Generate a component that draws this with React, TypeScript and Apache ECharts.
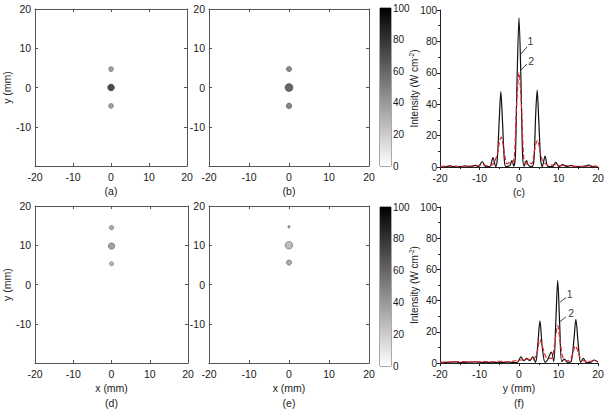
import React, { useEffect, useRef } from "react";
import * as echarts from "echarts";

// ---------- data ----------
const mmTicks = [-20, -10, 0, 10, 20];
const colorbarTicks = [0, 20, 40, 60, 80, 100];

// focal spots: [x (mm), y (mm), intensity (W/cm2), spot diameter (mm)]
const spotsA = [
  [0, 0, 88, 1.7],
  [0, 4.7, 45, 1.2],
  [0, -4.7, 45, 1.2],
];
const spotsB = [
  [0, 0, 75, 2.0],
  [0, 4.7, 58, 1.3],
  [0, -4.7, 60, 1.4],
];
const spotsD = [
  [0, 14.5, 40, 1.1],
  [0, 9.8, 45, 1.6],
  [0, 5.3, 35, 1.0],
];
const spotsE = [
  [0, 14.7, 45, 0.6],
  [0, 10, 32, 1.9],
  [0, 5.6, 40, 1.3],
];

// intensity profiles: [y (mm), intensity]
const profileC1 = [
  [-20, 0], [-18, 0.3], [-17.5, 0.8], [-17, 0.3], [-15, 0.2], [-13.5, 0.8], [-12.5, 0.2],
  [-11, 1], [-10.3, 0.2], [-9.3, 3.5], [-8.5, 0.3], [-7.4, 0.2], [-6.6, 6], [-5.9, 0.3],
  [-5.5, 5], [-5, 30], [-4.6, 48], [-4.2, 30], [-3.7, 4], [-3.3, 0.3], [-2.3, 1], [-1.8, 4],
  [-1.3, 0.5], [-0.9, 8], [-0.5, 55], [0, 95], [0.5, 55], [0.9, 8], [1.3, 0.5], [1.9, 4],
  [2.4, 1], [3.3, 0.3], [3.8, 5], [4.2, 32], [4.6, 49], [5.0, 30], [5.5, 4], [5.9, 0.3],
  [6.6, 7], [7.3, 0.3], [8.5, 0.3], [9.3, 3], [10.1, 0.3], [11, 1.5], [12, 0.3], [13.3, 1],
  [14, 0.3], [16, 0.2], [17.8, 1.2], [18.5, 0.2], [20, 0],
];
const profileC2 = [
  [-20, 0.3], [-17.5, 0.8], [-15, 0.3], [-12.5, 0.6], [-10, 0.8], [-9, 1.5], [-8, 0.8],
  [-7, 1], [-6.3, 3], [-5.5, 8], [-5, 15], [-4.5, 19], [-4, 14], [-3.5, 6], [-3, 2],
  [-2.3, 3], [-1.8, 2.5], [-1.2, 6], [-0.6, 40], [0, 60], [0.6, 40], [1.2, 6], [1.8, 2],
  [2.5, 3], [3.2, 2], [3.7, 7], [4.2, 14], [4.7, 17], [5.2, 12], [5.8, 5], [6.5, 2.5],
  [7.5, 1], [9, 1.5], [10, 0.8], [11.5, 1], [13, 0.6], [15, 0.4], [17, 0.5], [18.5, 0.8],
  [20, 0.2],
];
const profileF1 = [
  [-20, 0.3], [-18, 0.5], [-16, 0.8], [-15, 0.3], [-13, 0.6], [-11, 0.8], [-9, 0.4],
  [-7, 0.5], [-5, 0.4], [-3, 0.6], [-1.5, 0.5], [-0.5, 0.3], [0.5, 4], [1.2, 1.5], [2, 3],
  [2.7, 1.5], [3.5, 4], [4.2, 0.5], [4.7, 10], [5.3, 27], [5.9, 10], [6.6, 0.5], [7.2, 2],
  [8.2, 7], [8.8, 1], [9.3, 25], [9.8, 53], [10.3, 25], [10.8, 1], [11.5, 2.5], [12.3, 0.5],
  [13.2, 1], [13.9, 15], [14.4, 28], [15, 12], [15.6, 0.5], [16.3, 3], [17, 0.5], [18, 0.4],
  [19, 2], [20, 0.5],
];
const profileF2 = [
  [-20, 0.5], [-17, 0.8], [-15, 1], [-12, 0.8], [-10, 1], [-7, 0.8], [-5, 1.2], [-3, 0.8],
  [-1, 1.5], [0.5, 2], [2, 2.5], [3.5, 2], [4.5, 6], [5.3, 15], [6, 10], [6.8, 4], [7.5, 3],
  [8.3, 3], [9, 12], [9.8, 24], [10.5, 12], [11.2, 3], [12.3, 1.5], [13.3, 4], [14.3, 11],
  [15, 7], [15.7, 2], [16.5, 1.5], [18, 1], [19, 1.5], [20, 0.8],
];

// curve annotations: leader start/end, label position
const leaderC1 = [[0.5, 72], [2.0, 76.4]];
const leaderC2 = [[0.5, 61.8], [2.0, 65.6]];
const labelPosC = [[2.9, 80], [3.1, 67.5]];
const leaderF1 = [[10.4, 39], [11.9, 42]];
const leaderF2 = [[10.1, 26], [11.9, 29.6]];
const labelPosF = [[12.8, 44.5], [13.2, 32]];
const curveNames = ["1", "2"];

// ---------- styles ----------
const FONT = "Liberation Sans, Arial, Helvetica, sans-serif";
const FS = 10.5;
const TXT = "#1a1a1a";
const BOX = "#555";

function heatAxes(gi: number, xName: string, nameGap: number, yName: string) {
  const line = { show: true, onZero: false, lineStyle: { color: BOX, width: 1 } };
  const tick = { show: true, inside: true, length: 3, lineStyle: { color: BOX } };
  const xs = [
    {
      gridIndex: gi, type: "value", min: -20, max: 20, interval: 10,
      axisLine: line, axisTick: tick,
      axisLabel: { fontSize: FS, color: TXT, fontFamily: FONT, margin: 5 },
      splitLine: { show: false },
      name: xName, nameLocation: "middle", nameGap,
      nameTextStyle: { fontSize: FS, color: TXT, fontFamily: FONT, lineHeight: 15 },
    },
    {
      gridIndex: gi, type: "value", min: -20, max: 20, interval: 10, position: "top",
      axisLine: line, axisTick: tick,
      axisLabel: { show: false }, splitLine: { show: false },
    },
  ];
  const ys = [
    {
      gridIndex: gi, type: "value", min: -20, max: 20, interval: 10,
      axisLine: line, axisTick: tick,
      axisLabel: {
        fontSize: FS, color: TXT, fontFamily: FONT, margin: 4,
        formatter: (v: number) => (v === mmTicks[0] ? "" : String(v)),
      },
      splitLine: { show: false },
      name: yName, nameLocation: "middle", nameGap: 14,
      nameTextStyle: { fontSize: FS, color: TXT, fontFamily: FONT },
    },
    {
      gridIndex: gi, type: "value", min: -20, max: 20, interval: 10, position: "right",
      axisLine: line, axisTick: tick,
      axisLabel: { show: false }, splitLine: { show: false },
    },
  ];
  return { xs, ys };
}

function lineAxes(gi: number, xName: string, nameGap: number) {
  const x = {
    gridIndex: gi, type: "value", min: -20, max: 20, interval: 10,
    axisLine: { show: true, onZero: false, lineStyle: { color: "#222", width: 1 } },
    axisTick: { show: true, length: 3, lineStyle: { color: "#222" } },
    minorTick: { show: true, splitNumber: 2, length: 2, lineStyle: { color: "#222" } },
    axisLabel: { fontSize: FS, color: TXT, fontFamily: FONT, margin: 5 },
    splitLine: { show: false },
    name: xName, nameLocation: "middle", nameGap,
    nameTextStyle: { fontSize: FS, color: TXT, fontFamily: FONT, lineHeight: 15 },
  };
  const y = {
    gridIndex: gi, type: "value", min: 0, max: 100, interval: 20,
    axisLine: { show: true, onZero: false, lineStyle: { color: "#222", width: 1 } },
    axisTick: { show: true, length: 3, lineStyle: { color: "#222" } },
    minorTick: { show: true, splitNumber: 2, length: 2, lineStyle: { color: "#222" } },
    axisLabel: { fontSize: 10, color: TXT, fontFamily: FONT, margin: 3 },
    splitLine: { show: false },
    name: "Intensity (W cm{sup|-2})", nameLocation: "middle", nameGap: 20,
    nameMoveOverlap: false,
    nameTextStyle: {
      fontSize: 10, color: TXT, fontFamily: FONT,
      rich: { sup: { fontSize: 6.5, color: TXT, fontFamily: FONT, verticalAlign: "top", padding: [0, 0, 5, 0] } },
    },
  };
  return { x, y };
}

function colorbarAxes(gi: number) {
  return {
    x: { gridIndex: gi, type: "category", data: [""], show: false },
    y: {
      gridIndex: gi, type: "value", min: 0, max: 100, interval: 20, position: "right",
      axisLine: { show: false }, axisTick: { show: false }, splitLine: { show: false },
      axisLabel: { fontSize: 10, color: TXT, fontFamily: FONT, margin: 2 },
    },
  };
}

export default function App() {
  const ref = useRef<HTMLDivElement>(null);

  useEffect(() => {
    if (!ref.current) return;
    const chart = echarts.init(ref.current, undefined, { renderer: "svg" });

    const grids = [
      { left: 28, top: 9, width: 159, height: 157 }, // a
      { left: 209, top: 9, width: 160, height: 157 }, // b
      { left: 380, top: 8, width: 11, height: 158, show: true, borderColor: BOX, borderWidth: 1 }, // cb top
      { left: 440, top: 10, width: 158, height: 157 }, // c
      { left: 28, top: 206, width: 160, height: 160 }, // d
      { left: 209, top: 206, width: 160, height: 160 }, // e
      { left: 380, top: 207, width: 11, height: 159, show: true, borderColor: BOX, borderWidth: 1 }, // cb bottom
      { left: 440, top: 207, width: 158, height: 159 }, // f
    ];

    const xAxes: any[] = [];
    const yAxes: any[] = [];
    const axisIdx: Record<string, { x: number; y: number }> = {};
    const addHeat = (key: string, gi: number, xName: string, gap: number, yName: string) => {
      const { xs, ys } = heatAxes(gi, xName, gap, yName);
      axisIdx[key] = { x: xAxes.length, y: yAxes.length };
      xAxes.push(...xs);
      yAxes.push(...ys);
    };
    const addLine = (key: string, gi: number, xName: string, gap: number) => {
      const { x, y } = lineAxes(gi, xName, gap);
      axisIdx[key] = { x: xAxes.length, y: yAxes.length };
      xAxes.push(x);
      yAxes.push(y);
    };
    const addCb = (key: string, gi: number) => {
      const { x, y } = colorbarAxes(gi);
      axisIdx[key] = { x: xAxes.length, y: yAxes.length };
      xAxes.push(x);
      yAxes.push(y);
    };

    addHeat("a", 0, "(a)", 17, "y (mm)");
    addHeat("b", 1, "(b)", 17, "");
    addCb("cb1", 2);
    addLine("c", 3, "(c)", 17);
    addHeat("d", 4, "x (mm)\n(d)", 12, "y (mm)");
    addHeat("e", 5, "x (mm)\n(e)", 12, "");
    addCb("cb2", 6);
    addLine("f", 7, "y (mm)\n(f)", 12);

    const pxPerMm = 4;
    const series: any[] = [];
    const spotSeries = (key: string, data: number[][]) => ({
      type: "scatter",
      xAxisIndex: axisIdx[key].x,
      yAxisIndex: axisIdx[key].y,
      data,
      symbol: "circle",
      symbolSize: (v: number[]) => v[3] * pxPerMm,
      itemStyle: { borderColor: "rgba(40,40,40,0.75)", borderWidth: 0.7 },
      z: 3,
    });
    series.push(spotSeries("a", spotsA));
    series.push(spotSeries("b", spotsB));
    series.push(spotSeries("d", spotsD));
    series.push(spotSeries("e", spotsE));
    const spotSeriesIdx = [0, 1, 2, 3];

    const cbSeries = (key: string) => ({
      type: "bar",
      xAxisIndex: axisIdx[key].x,
      yAxisIndex: axisIdx[key].y,
      data: [colorbarTicks[colorbarTicks.length - 1]],
      barWidth: "100%",
      barCategoryGap: 0,
      itemStyle: {
        color: new echarts.graphic.LinearGradient(0, 0, 0, 1, [
          { offset: 0, color: "#000000" },
          { offset: 1, color: "#ffffff" },
        ]),
      },
      silent: true,
    });
    series.push(cbSeries("cb1"));
    series.push(cbSeries("cb2"));

    const profile = (key: string, data: number[][], color: string, type: string, z: number) => ({
      type: "line",
      xAxisIndex: axisIdx[key].x,
      yAxisIndex: axisIdx[key].y,
      data,
      showSymbol: false,
      symbol: "none",
      smooth: 0.3,
      lineStyle: { color, width: 1.2, type },
      z,
    });
    series.push(profile("c", profileC1, "#111", "solid", 2));
    series.push(profile("c", profileC2, "#e0262e", "dashed", 3));
    series.push(profile("f", profileF1, "#111", "solid", 2));
    series.push(profile("f", profileF2, "#e0262e", "dashed", 3));

    const leader = (key: string, data: number[][]) => ({
      type: "line",
      xAxisIndex: axisIdx[key].x,
      yAxisIndex: axisIdx[key].y,
      data,
      showSymbol: false,
      symbol: "none",
      lineStyle: { color: "#111", width: 0.8 },
      z: 5,
    });
    series.push(leader("c", leaderC1), leader("c", leaderC2), leader("f", leaderF1), leader("f", leaderF2));

    const labels = (key: string, pos: number[][]) => ({
      type: "scatter",
      xAxisIndex: axisIdx[key].x,
      yAxisIndex: axisIdx[key].y,
      data: pos.map((p, i) => ({ value: p, name: curveNames[i] })),
      symbolSize: 1,
      itemStyle: { color: "rgba(0,0,0,0)" },
      label: {
        show: true, position: "inside", formatter: (p: any) => p.name,
        fontSize: FS, color: "#000", fontFamily: FONT,
        textBorderWidth: 0, textBorderColor: "transparent",
      },
      z: 6,
    });
    series.push(labels("c", labelPosC), labels("f", labelPosF));

    chart.setOption({
      animation: false,
      backgroundColor: "#ffffff",
      grid: grids,
      xAxis: xAxes,
      yAxis: yAxes,
      visualMap: {
        type: "continuous",
        show: false,
        min: colorbarTicks[0],
        max: colorbarTicks[colorbarTicks.length - 1],
        dimension: 2,
        seriesIndex: spotSeriesIdx,
        inRange: { color: ["#ffffff", "#000000"] },
      },
      series,
    });

    return () => chart.dispose();
  }, []);

  return (
    <div
      ref={ref}
      style={{ position: "fixed", left: 0, top: 0, width: 609, height: 411, background: "#fff" }}
    />
  );
}
